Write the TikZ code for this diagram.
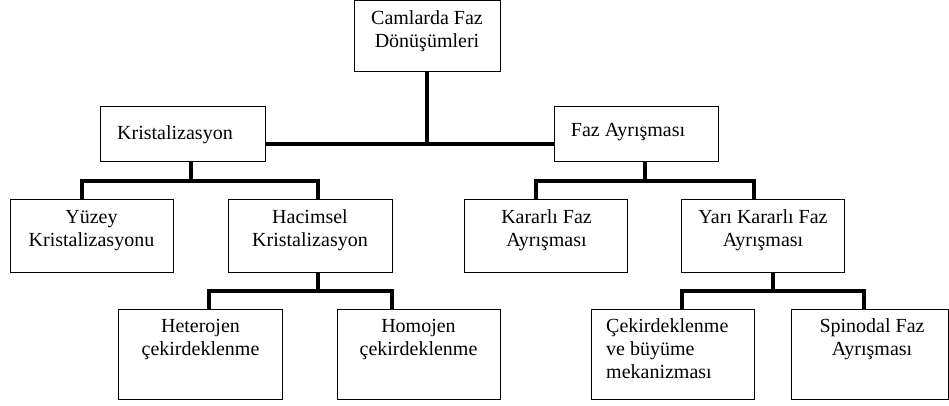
\documentclass[tikz,border=0pt]{standalone}
\usepackage{fontspec}
\setmainfont{Liberation Serif}
\begin{document}
\begin{tikzpicture}[x=1pt, y=-1pt,
	box/.style={draw, line width=1pt, inner sep=0pt},
	txt/.style={font=\fontsize{20}{23}\selectfont, align=center, inner sep=0pt, anchor=north, execute at begin node=\strut},
	link/.style={line width=4pt}]
	\useasboundingbox (0,0) rectangle (949,406);
	
	% kutular
	\node[box, minimum width=146pt, minimum height=71pt] (camlar) at (427,36.5) {};
	\node[box, minimum width=165pt, minimum height=55pt] (krist) at (182.5,134.5) {};
	\node[box, minimum width=164pt, minimum height=55pt] (faz) at (636,134.5) {};
	\node[box, minimum width=163pt, minimum height=73pt] (yuzey) at (91.5,235.5) {};
	\node[box, minimum width=164pt, minimum height=73pt] (hacim) at (310,235.5) {};
	\node[box, minimum width=163pt, minimum height=73pt] (kararli) at (545.5,235.5) {};
	\node[box, minimum width=163pt, minimum height=73pt] (yari) at (762.5,235.5) {};
	\node[box, minimum width=164pt, minimum height=90pt] (hetero) at (200,354) {};
	\node[box, minimum width=163pt, minimum height=90pt] (homo) at (418.5,354) {};
	\node[box, minimum width=163pt, minimum height=90pt] (cekir) at (672.5,354) {};
	\node[box, minimum width=157pt, minimum height=90pt] (spino) at (869.5,354) {};
	
	% yazilar
	\node[txt] (camlar-t) at (427,10.9) {Camlarda Faz\\Dönüşümleri};
	\node[txt] (krist-t) at (175,122.9) {Kristalizasyon};
	\node[txt] (faz-t) at (628,119.9) {Faz Ayrışması};
	\node[txt] (yuzey-t) at (91.5,209.9) {Yüzey\\Kristalizasyonu};
	\node[txt] (hacim-t) at (310,209.9) {Hacimsel\\Kristalizasyon};
	\node[txt] (kararli-t) at (546.5,209.9) {Kararlı Faz\\Ayrışması};
	\node[txt] (yari-t) at (763,209.9) {Yarı Kararlı Faz\\Ayrışması};
	\node[txt] (hetero-t) at (200.5,318.9) {Heterojen\\çekirdeklenme};
	\node[txt] (homo-t) at (418.5,318.9) {Homojen\\çekirdeklenme};
	\node[txt, align=left, anchor=north west] (cekir-t) at (606,318.9) {Çekirdeklenme\\ve büyüme\\mekanizması};
	\node[txt] (spino-t) at (872,318.9) {Spinodal Faz\\Ayrışması};
	
	% baglantilar
	\coordinate (bus) at (427,144);
	\draw[link] (camlar.south) -- (bus);
	\draw[link] (krist.east |- bus) -- (faz.west |- bus);
	
	\draw[link] ([xshift=8.5pt]krist.south) -- ++(0,18.5) coordinate (kbar);
	\draw[link] ([xshift=-9.5pt]yuzey.north) |- (kbar) -| ([xshift=8pt]hacim.north);
	
	\draw[link] ([xshift=9pt]faz.south) -- ++(0,18.5) coordinate (fbar);
	\draw[link] ([xshift=-9.5pt]kararli.north) |- (fbar) -| ([xshift=-8.5pt]yari.north);
	
	\draw[link] ([xshift=8pt]hacim.south) -- ++(0,18.5) coordinate (hbar);
	\draw[link] ([xshift=9pt]hetero.north) |- (hbar) -| ([xshift=-26.5pt]homo.north);
	
	\draw[link] ([xshift=10.5pt]yari.south) -- ++(0,18.5) coordinate (ybar);
	\draw[link] ([xshift=9.5pt]cekir.north) |- (ybar) -| ([xshift=-5.5pt]spino.north);
\end{tikzpicture}
\end{document}
